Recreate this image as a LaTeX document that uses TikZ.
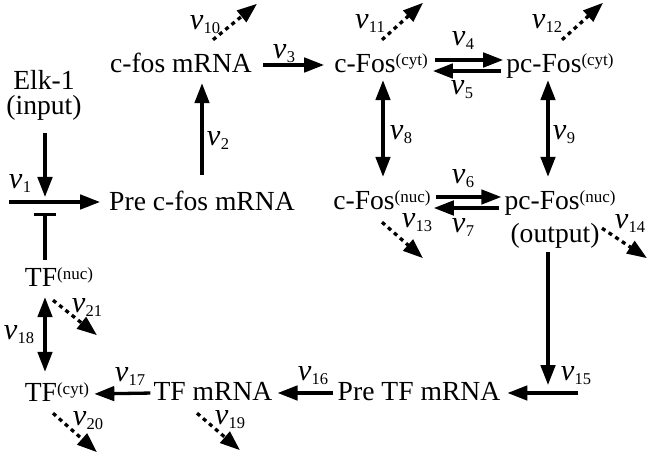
\documentclass[tikz,border=0pt]{standalone}
\usepackage{fontspec}
\setmainfont{Liberation Serif}
\usetikzlibrary{arrows.meta,calc}
\newcommand{\rv}[1]{{\fontsize{30.5}{30}\selectfont\textit{v}}\kern0.3pt\raisebox{-4pt}{\fontsize{16.5}{16.5}\selectfont #1}}
\newcommand{\spx}[1]{\raisebox{7pt}{\fontsize{17}{17}\selectfont(#1)}}
\begin{document}
\begin{tikzpicture}[x=1pt,y=-1pt,
  every node/.style={font=\fontsize{27.6}{26}\selectfont, inner sep=0pt},
  txt/.style={anchor=base, text height=19pt, text depth=0pt},
  lab/.style={anchor=center},
  arr/.style={line width=3.3pt, -{Triangle[length=20pt,width=14.5pt]}},
  darr/.style={line width=3.3pt, {Triangle[length=20pt,width=14.5pt]}-{Triangle[length=20pt,width=14.5pt]}},
  dec/.style={line width=3.3pt, dash pattern=on 4pt off 4pt, -{Triangle[length=20pt,width=14.5pt]}},
  inh/.style={line width=3.3pt, -{Bar[width=22pt,line width=3.3pt]}}]
\useasboundingbox (0,0) rectangle (648,457);
% species
\node[txt] (elk) at (44,90) {Elk-1};
\node[txt] (inp) at (44,115) {(input)};
\node[txt] (precfos) at (202,211) {Pre c-fos mRNA};
\node[txt] (cfosm) at (181,73) {c-fos mRNA};
\node[txt] (ccyt) at (381,73) {c-Fos\spx{cyt}};
\node[txt] (pccyt) at (560,73) {pc-Fos\spx{cyt}};
\node[txt] (cnuc) at (382,210) {c-Fos\spx{nuc}};
\node[txt] (pcnuc) at (560,210) {pc-Fos\spx{nuc}};
\node[txt] (output) at (555,243) {(output)};
\node[txt] (pretf) at (419,400) {Pre TF mRNA};
\node[txt] (tfm) at (213,400) {TF mRNA};
\node[txt] (tfcyt) at (57,401) {TF\spx{cyt}};
\node[txt] (tfnuc) at (59,287) {TF\spx{nuc}};
\coordinate (j1) at (45,202);
\coordinate (v1s) at (9,202);
\coordinate (c15) at (578,393);
% reactions
\draw[arr] ($(inp.south -| j1)+(0,18)$) -- ($(j1)+(0,-5)$);
\draw[arr, shorten >=9pt] (v1s) -- (precfos.west |- v1s);
\draw[inh, shorten <=8pt] (tfnuc.north -| j1) -- ($(j1)+(0,11)$);
\draw[arr, shorten <=17pt, shorten >=10pt] (precfos.north) -- (precfos.north |- cfosm.south);
\draw[arr, shorten <=11pt, shorten >=10pt] ($(cfosm.base east)+(0,-8)$) -- ($(ccyt.base west)+(0,-8)$);
\draw[arr, shorten <=7pt, shorten >=3pt] ($(ccyt.base east)+(0,-13)$) -- ($(pccyt.base west)+(0,-13)$);
\draw[arr, shorten <=5pt, shorten >=5pt] ($(pccyt.base west)+(0,-2)$) -- ($(ccyt.base east)+(0,-2)$);
\draw[arr, shorten <=5pt, shorten >=3pt] ($(cnuc.base east)+(0,-13)$) -- ($(pcnuc.base west)+(0,-13)$);
\draw[arr, shorten <=5pt, shorten >=3pt] ($(pcnuc.base west)+(0,-2)$) -- ($(cnuc.base east)+(0,-2)$);
\draw[darr, shorten <=7pt, shorten >=14pt] ($(ccyt.south)+(2,0)$) -- ($(ccyt.south |- cnuc.north)+(2,0)$);
\draw[darr, shorten <=7pt, shorten >=14pt] ($(pccyt.south)+(-12,0)$) -- ($(pccyt.south |- pcnuc.north)+(-12,0)$);
\draw[dec] ($(cfosm.north)+(32,-14)$) -- ++(44,-36);
\draw[dec] ($(ccyt.north)+(1,-14)$) -- ++(41,-37);
\draw[dec] ($(pccyt.north)+(2,-14)$) -- ++(41,-37);
\draw[dec] ($(cnuc.south)+(0,12)$) -- ++(41,36);
\draw[dec] ($(pcnuc.south)+(42,18)$) -- ++(45,30);
\draw[dec] ($(tfm.south)+(-16,13)$) -- ++(43,37);
\draw[dec] ($(tfcyt.south)+(-4,12)$) -- ++(44,39);
\draw[dec] ($(tfnuc.south)+(-6,13)$) -- ++(44,35);
\draw[arr] ($(output.south -| pccyt.south)+(-12,9)$) -- ($(c15 -| pccyt.south)+(-12,-8)$);
\draw[arr, shorten >=7pt] (c15) -- (pretf.east |- c15);
\draw[arr, shorten <=5pt, shorten >=5pt] ($(pretf.base west)+(0,-7)$) -- ($(tfm.base east)+(0,-7)$);
\draw[arr, shorten <=3pt, shorten >=5pt] ($(tfm.base west)+(0,-7)$) -- ($(tfcyt.base east)+(0,-7)$);
\draw[darr, shorten <=10pt, shorten >=10pt] (tfnuc.south -| j1) -- (tfcyt.north -| j1);
% rate labels
\node[lab] (l1) at (20,184) {\rv{1}};
\node[lab] (l2) at (218,141) {\rv{2}};
\node[lab] (l3) at (284,54) {\rv{3}};
\node[lab] (l4) at (463,41) {\rv{4}};
\node[lab] (l5) at (462,90) {\rv{5}};
\node[lab] (l6) at (463,179) {\rv{6}};
\node[lab] (l7) at (463,228) {\rv{7}};
\node[lab] (l8) at (401,135) {\rv{8}};
\node[lab] (l9) at (564,135) {\rv{9}};
\node[lab] (l10) at (205,25) {\rv{10}};
\node[lab] (l11) at (370,24) {\rv{11}};
\node[lab] (l12) at (547,24) {\rv{12}};
\node[lab] (l13) at (417,223) {\rv{13}};
\node[lab] (l14) at (630,224) {\rv{14}};
\node[lab] (l15) at (576,376) {\rv{15}};
\node[lab] (l16) at (313,376) {\rv{16}};
\node[lab] (l17) at (130,376) {\rv{17}};
\node[lab] (l18) at (19,335) {\rv{18}};
\node[lab] (l19) at (230,420) {\rv{19}};
\node[lab] (l20) at (88,421) {\rv{20}};
\node[lab] (l21) at (87,307) {\rv{21}};
\end{tikzpicture}
\end{document}
